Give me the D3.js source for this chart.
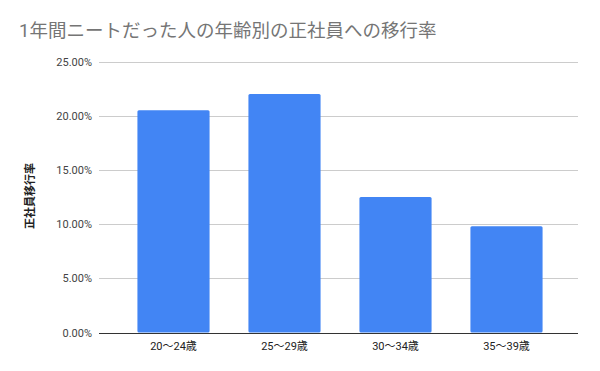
<!DOCTYPE html>
<html>
<head>
<meta charset="utf-8">
<script src="https://cdn.jsdelivr.net/npm/d3@7"></script>
<style>
  body { margin: 0; background: #fff; }
  text { font-family: "Roboto", "Noto Sans CJK JP", sans-serif; }
</style>
</head>
<body>
<div id="chart"></div>
<script>
// datos
var categorias = ["20～24歳", "25～29歳", "30～34歳", "35～39歳"];
var valores = [0.205, 0.220, 0.125, 0.098];
var ticksY = [0, 0.05, 0.10, 0.15, 0.20, 0.25];

var w = 600;
var h = 371;

var svg = d3.select("#chart")
    .append("svg")
    .attr("width", w)
    .attr("height", h);

svg.append("rect").attr("width", w).attr("height", h).attr("fill", "#fff");

// escalas
var x = d3.scaleBand()
    .domain(categorias)
    .range([118, 562])
    .paddingInner(0.35)
    .paddingOuter(0.175);

var y = d3.scaleLinear()
    .domain([0, 0.25])
    .range([332.5, 61.5]);

// titulo
svg.append("text")
    .attr("x", 19)
    .attr("y", 37)
    .attr("font-size", 18.5)
    .attr("fill", "#757575")
    .text("1年間ニートだった人の年齢別の正社員への移行率");

// lineas de la cuadricula
svg.append("g")
    .selectAll("line")
    .data(ticksY.slice(1))
    .enter()
    .append("line")
    .attr("x1", 99)
    .attr("x2", 578)
    .attr("y1", function (d) { return Math.round(y(d)) + 0.5; })
    .attr("y2", function (d) { return Math.round(y(d)) + 0.5; })
    .attr("stroke", "#cccccc")
    .attr("stroke-width", 1);

// eje y (solo etiquetas)
var ejeY = svg.append("g")
    .attr("transform", "translate(99,0)")
    .call(d3.axisLeft(y).tickValues(ticksY).tickSize(0).tickPadding(7)
        .tickFormat(function (d) { return (d * 100).toFixed(2) + "%"; }));
ejeY.select(".domain").remove();
ejeY.selectAll("text")
    .attr("font-size", 11)
    .attr("fill", "#444")
    .attr("font-family", "Roboto, sans-serif");

// titulo eje y
svg.append("text")
    .attr("transform", "translate(34,196) rotate(-90)")
    .attr("text-anchor", "middle")
    .attr("font-size", 11)
    .attr("font-weight", "bold")
    .attr("fill", "#222")
    .text("正社員移行率");

// barras
svg.append("g")
    .selectAll("rect")
    .data(valores)
    .enter()
    .append("rect")
    .attr("x", function (d, i) { return x(categorias[i]); })
    .attr("y", function (d) { return y(d); })
    .attr("width", x.bandwidth())
    .attr("height", function (d) { return y(0) - y(d); })
    .attr("rx", 1.5)
    .attr("fill", "#4285f4");

// eje x
var ejeX = svg.append("g")
    .attr("transform", "translate(0," + (Math.round(y(0)) + 0.5) + ")")
    .call(d3.axisBottom(x).tickSize(0).tickPadding(9));
ejeX.select(".domain")
    .attr("d", "M99,0H578")
    .attr("stroke", "#333")
    .attr("stroke-width", 1);
ejeX.selectAll("text")
    .attr("font-size", 11)
    .attr("fill", "#222");
</script>
</body>
</html>
